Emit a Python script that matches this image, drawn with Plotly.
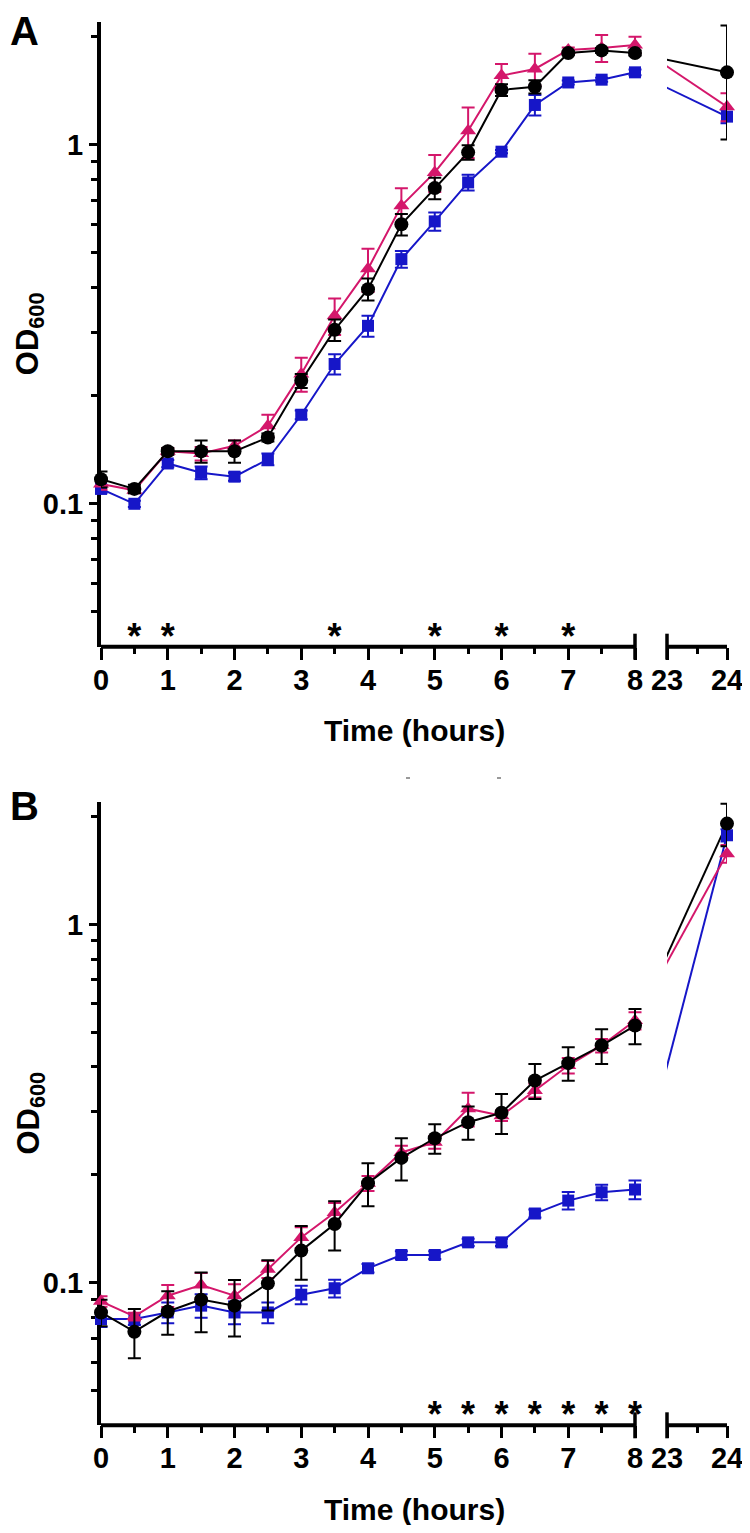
import plotly.graph_objects as go

# The page body has an 8 px margin, so the figure is sized to fit the 750x1533 window.
PAGE_OFF = 8
W, H = 750 - PAGE_OFF, 1533 - 2 * PAGE_OFF

# ---------------- data ----------------
times = [0, 0.5, 1, 1.5, 2, 2.5, 3, 3.5, 4, 4.5, 5, 5.5, 6, 6.5, 7, 7.5, 8, 24]
tick_hours = [0, 1, 2, 3, 4, 5, 6, 7, 8, 23, 24]
tick_labels = ["0", "1", "2", "3", "4", "5", "6", "7", "8", "23", "24"]
minor_hours = [0.5, 1.5, 2.5, 3.5, 4.5, 5.5, 6.5, 7.5, 23.5]

a_black = [0.117, 0.110, 0.140, 0.140, 0.140, 0.153, 0.220, 0.305, 0.396, 0.600, 0.757, 0.952, 1.42, 1.45, 1.80, 1.83, 1.80, 1.59]
a_black_err = [0.006, 0.003, 0.003, 0.010, 0.010, 0.004, 0.010, 0.021, 0.028, 0.041, 0.052, 0.044, 0.054, 0.062, 0.02, 0.03, 0.03, 0.556]
a_magenta = [0.1135, 0.109, 0.140, 0.138, 0.145, 0.165, 0.230, 0.334, 0.451, 0.676, 0.837, 1.094, 1.557, 1.625, 1.835, 1.86, 1.896, 1.276]
a_magenta_err = [0.004, 0.002, 0.003, 0.006, 0.005, 0.012, 0.025, 0.039, 0.062, 0.08, 0.099, 0.176, 0.12, 0.165, 0.03, 0.16, 0.1, 0.114]
a_blue = [0.110, 0.100, 0.1295, 0.122, 0.119, 0.133, 0.177, 0.245, 0.313, 0.480, 0.6115, 0.785, 0.956, 1.29, 1.49, 1.517, 1.59, 1.197]
a_blue_err = [0.003, 0.002, 0.003, 0.005, 0.003, 0.005, 0.005, 0.016, 0.021, 0.026, 0.036, 0.04, 0.01, 0.085, 0.02, 0.02, 0.03, 0.05]

b_black = [0.0826, 0.073, 0.0831, 0.0897, 0.0863, 0.0996, 0.1229, 0.1459, 0.1894, 0.223, 0.253, 0.2805, 0.298, 0.3666, 0.41, 0.459, 0.522, 1.911]
b_black_err = [0.007, 0.0115, 0.0115, 0.017, 0.0155, 0.016, 0.021, 0.023, 0.026, 0.03, 0.024, 0.03, 0.038, 0.041, 0.044, 0.051, 0.059, 0.26]
b_magenta = [0.0887, 0.0805, 0.092, 0.0985, 0.092, 0.109, 0.1338, 0.157, 0.1894, 0.231, 0.2465, 0.306, 0.2926, 0.344, 0.4037, 0.459, 0.539, 1.575]
b_magenta_err = [0.003, 0.002, 0.0065, 0.008, 0.007, 0.006, 0.009, 0.01, 0.009, 0.01, 0.01, 0.033, 0.01, 0.015, 0.02, 0.02, 0.03, 0.09]
b_blue = [0.0792, 0.0792, 0.0826, 0.0863, 0.0826, 0.0826, 0.0926, 0.0965, 0.1097, 0.1195, 0.1195, 0.1296, 0.1296, 0.156, 0.1695, 0.1788, 0.182, 1.773]
b_blue_err = [0.004, 0.003, 0.0055, 0.0065, 0.006, 0.0055, 0.0055, 0.0055, 0.003, 0.003, 0.003, 0.003, 0.003, 0.004, 0.0095, 0.009, 0.011, 0.07]

a_star_hours = [0.5, 1, 3.5, 5, 6, 7]
b_star_hours = [5, 5.5, 6, 6.5, 7, 7.5, 8]

y_major = [0.1, 1]
y_minor = [0.05, 0.06, 0.07, 0.08, 0.09, 0.2, 0.3, 0.4, 0.5, 0.6, 0.7, 0.8, 0.9, 2]

# ---------------- layout geometry (page pixel coordinates) ----------------
BLACK = "#000000"
MAGENTA = "#D4176B"
BLUE = "#1616C8"
FONT = "Liberation Sans, Arial, Helvetica, sans-serif"

X_LEFT, X_8, X_23, X_24 = 101, 635, 667, 727
PPH = (X_8 - X_LEFT) / 8.0
GAP = (X_23 - X_8) / PPH
SEG2 = (X_24 - X_23) / PPH


def xpos(t):
    """Broken-axis position: 0-8 h segment then 23-24 h segment."""
    if t <= 8:
        return t
    return 8 + GAP + (t - 23) * SEG2


def px(x):
    return (x - PAGE_OFF) / W


def py(y):
    return 1 - (y - PAGE_OFF) / H


XMAX = xpos(24)
YRANGE = [-1.39794, 0.3424]  # log10(0.04) .. log10(2.2)

panels = [
    dict(name="A", label_y=31, top=21.7, bottom=646.7, xa="x", xb="x2", ya="y",
         series=[(a_blue, a_blue_err, BLUE, "square", 12),
                 (a_magenta, a_magenta_err, MAGENTA, "triangle-up", 14),
                 (a_black, a_black_err, BLACK, "circle", 14)],
         stars=a_star_hours),
    dict(name="B", label_y=806, top=801.7, bottom=1425.3, xa="x3", xb="x4", ya="y2",
         series=[(b_blue, b_blue_err, BLUE, "square", 12),
                 (b_magenta, b_magenta_err, MAGENTA, "triangle-up", 14),
                 (b_black, b_black_err, BLACK, "circle", 14)],
         stars=b_star_hours),
]

fig = go.Figure()
shapes = []
annotations = []
early = [i for i, t in enumerate(times) if t <= 8]
late = [i for i, t in enumerate(times) if t > 8]
i8 = times.index(8)

for p in panels:
    # bridge lines (8 h -> 24 h), clipped by the right-hand subplot
    for vals, errs, col, sym, size in p["series"]:
        fig.add_trace(go.Scatter(
            x=[xpos(8), xpos(24)], y=[vals[i8], vals[-1]],
            xaxis=p["xb"], yaxis=p["ya"], mode="lines",
            line=dict(color=col, width=2), showlegend=False, hoverinfo="skip"))
    # 0-8 h segment
    for vals, errs, col, sym, size in p["series"]:
        fig.add_trace(go.Scatter(
            x=[xpos(times[i]) for i in early], y=[vals[i] for i in early],
            xaxis=p["xa"], yaxis=p["ya"], mode="lines+markers",
            line=dict(color=col, width=2),
            marker=dict(color=col, symbol=sym, size=size),
            error_y=dict(type="data", array=[errs[i] for i in early],
                         color=col, thickness=2, width=6.5),
            cliponaxis=False, showlegend=False))
    # 24 h points
    for vals, errs, col, sym, size in p["series"]:
        fig.add_trace(go.Scatter(
            x=[xpos(times[i]) for i in late], y=[vals[i] for i in late],
            xaxis=p["xb"], yaxis=p["ya"], mode="markers",
            marker=dict(color=col, symbol=sym, size=size),
            error_y=dict(type="data", array=[errs[i] for i in late],
                         color=col, thickness=2, width=6.5),
            cliponaxis=False, showlegend=False))
    # significance stars
    fig.add_trace(go.Scatter(
        x=[xpos(t) for t in p["stars"]], y=[0.0418] * len(p["stars"]),
        xaxis=p["xa"], yaxis=p["ya"], mode="text", text=["*"] * len(p["stars"]),
        textposition="middle center",
        textfont=dict(family=FONT, size=36, color=BLACK, weight="bold"),
        cliponaxis=False, showlegend=False, hoverinfo="skip"))

    yref_dom = p["ya"] + " domain"
    # broken x-axis line
    for x0, x1 in [(xpos(0), xpos(8)), (xpos(23), xpos(24))]:
        shapes.append(dict(type="line", xref=p["xa"], yref=yref_dom,
                           x0=x0, x1=x1, y0=0, y1=0,
                           line=dict(color=BLACK, width=4)))
    # break end bars at 8 and 23
    for t in (8, 23):
        shapes.append(dict(type="line", xref=p["xa"], yref=yref_dom,
                           ysizemode="pixel", yanchor=0,
                           x0=xpos(t), x1=xpos(t), y0=-13, y1=13,
                           line=dict(color=BLACK, width=3.5)))

    # panel letter, axis titles
    annotations.append(dict(text=p["name"], x=px(24), y=py(p["label_y"]),
                            xref="paper", yref="paper", showarrow=False,
                            xanchor="center", yanchor="middle",
                            font=dict(family=FONT, size=40, color=BLACK, weight="bold")))
    annotations.append(dict(text="Time (hours)", x=px((X_LEFT + X_24) / 2),
                            y=py(p["bottom"] + 84), xref="paper", yref="paper",
                            showarrow=False, xanchor="center", yanchor="middle",
                            font=dict(family=FONT, size=30, color=BLACK, weight="bold")))
    annotations.append(dict(text="OD<sub>600</sub>", x=px(30),
                            y=py((p["top"] + p["bottom"]) / 2), xref="paper", yref="paper",
                            showarrow=False, textangle=-90, xanchor="center", yanchor="middle",
                            font=dict(family=FONT, size=31, color=BLACK, weight="bold")))

# faint stray marks between the panels
for xx in (408, 499):
    shapes.append(dict(type="line", xref="paper", yref="paper",
                       x0=px(xx - 2), x1=px(xx + 2), y0=py(778), y1=py(778),
                       line=dict(color="#777777", width=1.5)))

xdom_main = [px(X_LEFT), px(X_24)]
xdom_right = [px(X_23), px(X_24)]


def x_main(anchor):
    return dict(domain=xdom_main, range=[0, XMAX], anchor=anchor, automargin=False,
                showline=False, showgrid=False, zeroline=False,
                tickmode="array", tickvals=[xpos(t) for t in tick_hours],
                ticktext=tick_labels, ticks="outside", ticklen=12, tickwidth=3,
                tickcolor=BLACK, ticklabelstandoff=-5,
                tickfont=dict(family=FONT, size=29, color=BLACK, weight="bold"),
                minor=dict(tickmode="array", tickvals=[xpos(t) for t in minor_hours],
                           ticks="outside", ticklen=6.5, tickwidth=3, tickcolor=BLACK,
                           showgrid=False),
                fixedrange=True)


def x_right(anchor):
    return dict(domain=xdom_right, range=[xpos(23), xpos(24)], anchor=anchor,
                automargin=False, visible=False, showgrid=False, zeroline=False,
                fixedrange=True)


def y_axis(dom, anchor):
    return dict(type="log", domain=dom, range=YRANGE, anchor=anchor, automargin=False,
                showline=True, linewidth=4, linecolor=BLACK, showgrid=False,
                zeroline=False, layer="below traces",
                tickmode="array", tickvals=y_major, ticktext=["0.1", "1"],
                ticks="outside", ticklen=8, tickwidth=3, tickcolor=BLACK,
                tickfont=dict(family=FONT, size=29, color=BLACK, weight="bold"),
                minor=dict(tickmode="array", tickvals=y_minor, ticks="outside",
                           ticklen=6, tickwidth=3, tickcolor=BLACK, showgrid=False),
                fixedrange=True)


pa, pb = panels
fig.update_layout(
    template="none",
    width=W, height=H, autosize=False,
    margin=dict(l=0, r=0, t=0, b=0, pad=0, autoexpand=False),
    paper_bgcolor="white", plot_bgcolor="rgba(0,0,0,0)",
    xaxis=x_main("y"), xaxis2=x_right("y"),
    xaxis3=x_main("y2"), xaxis4=x_right("y2"),
    yaxis=y_axis([py(pa["bottom"]), py(pa["top"])], "x"),
    yaxis2=y_axis([py(pb["bottom"]), py(pb["top"])], "x3"),
    shapes=shapes, annotations=annotations,
    showlegend=False,
)

fig.write_html("out.html", config={"displayModeBar": False})
